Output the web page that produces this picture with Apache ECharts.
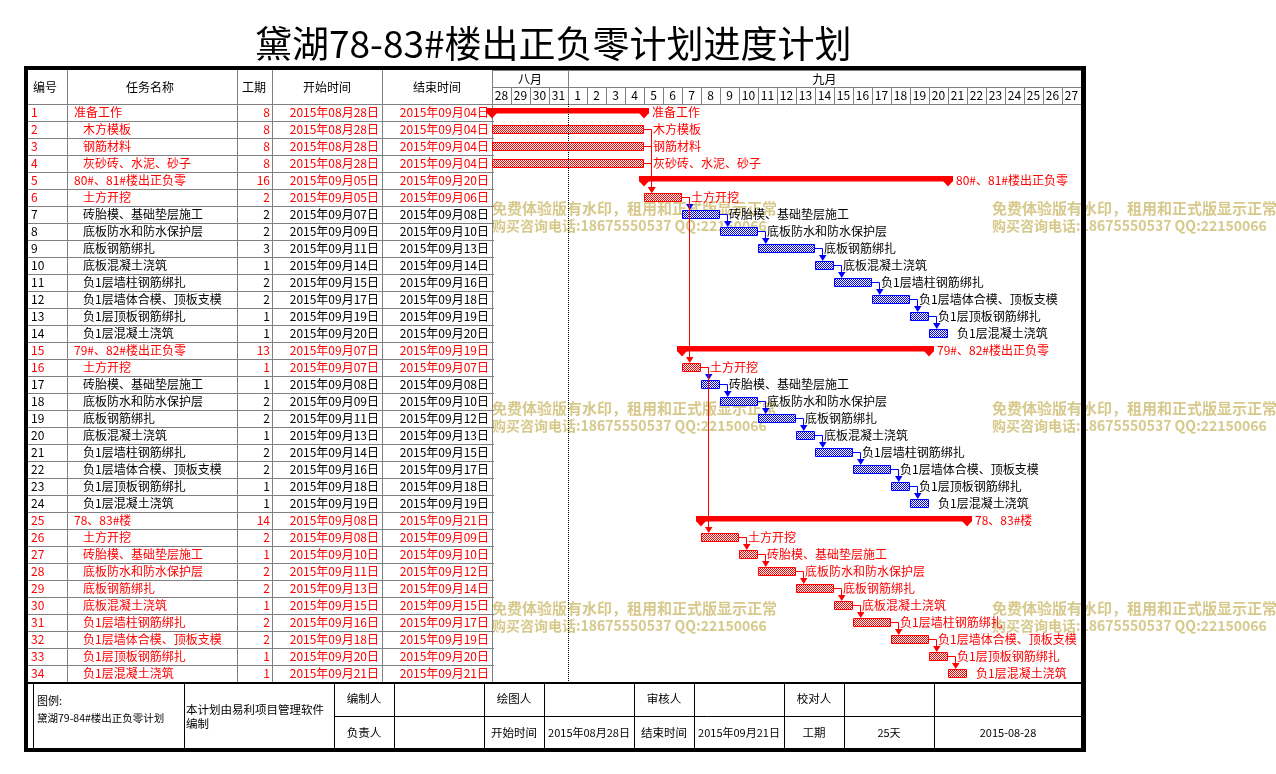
<!DOCTYPE html>
<html><head><meta charset="utf-8">
<script src="https://cdn.jsdelivr.net/npm/echarts/dist/echarts.min.js"></script>
<style>html,body{margin:0;padding:0;background:#fff}#c{width:1276px;height:774px}</style>
</head><body><div id="c"></div>
<script>
// ---------------- DATA ----------------
const chartTitle = '黛湖78-83#楼出正负零计划进度计划';
const columnTitles = ['编号', '任务名称', '工期', '开始时间', '结束时间'];
const taskNames = [
  '准备工作', '木方模板', '钢筋材料', '灰砂砖、水泥、砂子', '80#、81#楼出正负零', '土方开挖',
  '砖胎模、基础垫层施工', '底板防水和防水保护层', '底板钢筋绑扎', '底板混凝土浇筑',
  '负1层墙柱钢筋绑扎', '负1层墙体合模、顶板支模', '负1层顶板钢筋绑扎', '负1层混凝土浇筑',
  '79#、82#楼出正负零', '土方开挖',
  '砖胎模、基础垫层施工', '底板防水和防水保护层', '底板钢筋绑扎', '底板混凝土浇筑',
  '负1层墙柱钢筋绑扎', '负1层墙体合模、顶板支模', '负1层顶板钢筋绑扎', '负1层混凝土浇筑',
  '78、83#楼', '土方开挖',
  '砖胎模、基础垫层施工', '底板防水和防水保护层', '底板钢筋绑扎', '底板混凝土浇筑',
  '负1层墙柱钢筋绑扎', '负1层墙体合模、顶板支模', '负1层顶板钢筋绑扎', '负1层混凝土浇筑'
];
const durations = [8, 8, 8, 8, 16, 2, 2, 2, 3, 1, 2, 2, 1, 1, 13, 1, 1, 2, 2, 1, 2, 2, 1, 1, 14, 2, 1, 2, 2, 1, 2, 2, 1, 1];
const startDates = [
  '2015-08-28', '2015-08-28', '2015-08-28', '2015-08-28', '2015-09-05', '2015-09-05',
  '2015-09-07', '2015-09-09', '2015-09-11', '2015-09-14', '2015-09-15', '2015-09-17', '2015-09-19', '2015-09-20',
  '2015-09-07', '2015-09-07',
  '2015-09-08', '2015-09-09', '2015-09-11', '2015-09-13', '2015-09-14', '2015-09-16', '2015-09-18', '2015-09-19',
  '2015-09-08', '2015-09-08',
  '2015-09-10', '2015-09-11', '2015-09-13', '2015-09-15', '2015-09-16', '2015-09-18', '2015-09-20', '2015-09-21'
];
const endDates = [
  '2015-09-04', '2015-09-04', '2015-09-04', '2015-09-04', '2015-09-20', '2015-09-06',
  '2015-09-08', '2015-09-10', '2015-09-13', '2015-09-14', '2015-09-16', '2015-09-18', '2015-09-19', '2015-09-20',
  '2015-09-19', '2015-09-07',
  '2015-09-08', '2015-09-10', '2015-09-12', '2015-09-13', '2015-09-15', '2015-09-17', '2015-09-18', '2015-09-19',
  '2015-09-21', '2015-09-09',
  '2015-09-10', '2015-09-12', '2015-09-14', '2015-09-15', '2015-09-17', '2015-09-19', '2015-09-20', '2015-09-21'
];
const summaryRows = [1, 5, 15, 25];
const criticalRows = [1, 2, 3, 4, 5, 6, 15, 16, 25, 26, 27, 28, 29, 30, 31, 32, 33, 34];
const links = [
  [2, 6], [3, 6], [4, 6], [6, 7], [6, 16],
  [7, 8], [8, 9], [9, 10], [10, 11], [11, 12], [12, 13], [13, 14],
  [16, 17], [16, 26],
  [17, 18], [18, 19], [19, 20], [20, 21], [21, 22], [22, 23], [23, 24],
  [26, 27], [27, 28], [28, 29], [29, 30], [30, 31], [31, 32], [32, 33], [33, 34]
];
const dayLabels = ['28', '29', '30', '31', '1', '2', '3', '4', '5', '6', '7', '8', '9', '10', '11', '12', '13', '14',
  '15', '16', '17', '18', '19', '20', '21', '22', '23', '24', '25', '26', '27'];
const monthNames = ['八月', '九月'];
const monthStarts = ['2015-08-28', '2015-09-01'];
const monthEnds = ['2015-09-01', '2015-09-28'];
const axisStart = '2015-08-28';
const axisEnd = '2015-09-28';
const watermarkLines = ['免费体验版有水印，租用和正式版显示正常', '购买咨询电话:18675550537 QQ:22150066'];
const legendLabel = '图例:';
const legendName = '黛湖79-84#楼出正负零计划';
const softwareNote = ['本计划由易利项目管理软件', '编制'];
const footerLabels1 = ['编制人', '绘图人', '审核人', '校对人'];
const footerLabels2 = ['负责人', '开始时间', '结束时间', '工期'];
const printDate = '2015-08-28';

// ---------------- HELPERS ----------------
const DAY = 86400000;
const T = s => { const [y, m, d] = s.split('-').map(Number); return new Date(y, m - 1, d).getTime(); };
const fmtDate = s => { const [y, m, d] = s.split('-'); return y + '年' + m + '月' + d + '日'; };
const RED = '#FF0000', BLUE = '#0000FF', GRAY = '#808080', WM = '#D6C98B';
const FONT = '"Noto Sans CJK SC", "Noto Sans", sans-serif';
const f = (s, w) => (w || '') + ' ' + s + 'px ' + FONT;
function makePattern(color) {
  const c = document.createElement('canvas'); c.width = 2; c.height = 2;
  const ctx = c.getContext('2d');
  ctx.fillStyle = '#fff'; ctx.fillRect(0, 0, 2, 2);
  ctx.fillStyle = color; ctx.fillRect(0, 0, 1, 1); ctx.fillRect(1, 1, 1, 1);
  return { image: c, repeat: 'repeat' };
}
const redPat = makePattern(RED), bluePat = makePattern(BLUE);
const isCrit = r => criticalRows.indexOf(r) >= 0;
const isSum = r => summaryRows.indexOf(r) >= 0;

// layout (pixels)
const G = { left: 492, top: 104, width: 589, height: 578 };
const colLines = [67, 237, 272, 382, 492];
const headerCenters = [45, 150, 254, 327, 437];

const projStart = startDates.reduce((a, b) => (T(a) <= T(b) ? a : b));
const projEnd = endDates.reduce((a, b) => (T(a) >= T(b) ? a : b));
const projDays = Math.round((T(projEnd) - T(projStart)) / DAY) + 1;

// ---------------- GRAPHICS (frame, header, footer, watermark) ----------------
const els = [];
const line = (x1, y1, x2, y2, c, z) => els.push({ type: 'line', z: z || 1, shape: { x1, y1, x2, y2 }, style: { stroke: c, lineWidth: 1 } });
const text = (x, y, t, opt) => els.push(Object.assign({ type: 'text', z: 5, x, y, style: Object.assign({ text: t, fill: '#000', font: f(12), align: 'left', verticalAlign: 'middle' }, opt || {}) }));

// watermarks
[[492, 208], [992, 208], [492, 408], [992, 408], [492, 608], [992, 608]].forEach(([x, y]) => {
  els.push({ type: 'text', z: 0, x, y, style: { text: watermarkLines[0], fill: WM, font: f(15, 'bold'), align: 'left', verticalAlign: 'middle' } });
  els.push({ type: 'text', z: 0, x, y: y + 18, style: { text: watermarkLines[1], fill: WM, font: f(14, 'bold'), align: 'left', verticalAlign: 'middle' } });
});

// table column lines & header
colLines.forEach(x => line(x + 0.5, 70, x + 0.5, 682, GRAY));
line(28, 104.5, 494, 104.5, GRAY);
columnTitles.forEach((t, i) => text(headerCenters[i], 87, t, { align: 'center' }));

// footer
els.push({ type: 'rect', z: 10, shape: { x: 28, y: 682, width: 1053, height: 2 }, style: { fill: '#000' } });
[33, 184, 334, 394, 484, 544, 634, 694, 784, 844, 934].forEach(x => line(x + 0.5, 684, x + 0.5, 748, '#000', 10));
line(334, 716.5, 1081, 716.5, '#000', 10);
text(37, 701, legendLabel, { font: f(11) });
text(37, 718, legendName, { font: f(10.5) });
text(186, 710, softwareNote[0], { font: f(11.5) });
text(186, 724, softwareNote[1], { font: f(11.5) });
[364, 514, 664, 814].forEach((x, i) => {
  text(x, 699, footerLabels1[i], { align: 'center', font: f(11.5) });
  text(x, 733, footerLabels2[i], { align: 'center', font: f(11.5) });
});
text(589, 733, fmtDate(projStart), { align: 'center', font: f(11) });
text(739, 733, fmtDate(projEnd), { align: 'center', font: f(11) });
text(889, 733, projDays + '天', { align: 'center', font: f(11) });
text(1008, 733, printDate, { align: 'center', font: f(11) });

// outer frame
[[24, 66, 1062, 4], [24, 66, 4, 686], [1081, 66, 5, 686], [24, 748, 1062, 4]].forEach(([x, y, w, h]) =>
  els.push({ type: 'rect', z: 20, shape: { x, y, width: w, height: h }, style: { fill: '#000' } }));

// ---------------- SERIES ----------------
const rowIdx = taskNames.map((_, i) => i);

const tableSeries = {
  type: 'custom', name: 'table', z: 3, animation: false, silent: true,
  xAxisIndex: 0, yAxisIndex: 0, encode: { x: 0, y: 1 },
  data: rowIdx.map(i => [T(startDates[i]), i]),
  renderItem(params, api) {
    const i = api.value(1);
    const c = api.coord([api.value(0), i])[1];
    const r = i + 1;
    const col = isCrit(r) ? RED : '#000';
    const t = (x, s, align) => ({ type: 'text', style: { text: s, x, y: c, fill: col, font: f(12), align, verticalAlign: 'middle' } });
    return { type: 'group', children: [
      t(31, String(r), 'left'),
      t(isSum(r) ? 74 : 83, taskNames[i], 'left'),
      t(270, String(durations[i]), 'right'),
      t(379, fmtDate(startDates[i]), 'right'),
      t(489, fmtDate(endDates[i]), 'right'),
      { type: 'line', shape: { x1: 28, y1: c + 9, x2: 494, y2: c + 9 }, style: { stroke: GRAY, lineWidth: 1 } }
    ] };
  }
};

const barSeries = {
  type: 'custom', name: 'bars', z: 4, animation: false, silent: true,
  xAxisIndex: 0, yAxisIndex: 0, encode: { x: [0, 1], y: 2 },
  data: rowIdx.map(i => [T(startDates[i]), T(endDates[i]) + DAY, i]),
  renderItem(params, api) {
    const i = api.value(2);
    const p0 = api.coord([api.value(0), i]);
    const p1 = api.coord([api.value(1), i]);
    const x0 = p0[0], x1 = p1[0], c = p0[1];
    const r = i + 1;
    const crit = isCrit(r);
    const color = crit ? RED : BLUE;
    const tcol = crit ? RED : '#000';
    if (isSum(r)) {
      return { type: 'group', children: [
        { type: 'rect', shape: { x: x0 - 5, y: c - 4.5, width: x1 - x0 + 10, height: 5.5 }, style: { fill: color } },
        { type: 'polygon', shape: { points: [[x0 - 5, c + 0.5], [x0 + 5, c + 0.5], [x0, c + 6]] }, style: { fill: color } },
        { type: 'polygon', shape: { points: [[x1 - 5, c + 0.5], [x1 + 5, c + 0.5], [x1, c + 6]] }, style: { fill: color } },
        { type: 'text', style: { text: taskNames[i], x: x1 + 8, y: c, fill: tcol, font: f(12), align: 'left', verticalAlign: 'middle' } }
      ] };
    }
    return { type: 'group', children: [
      { type: 'rect', shape: { x: x0 + 0.5, y: c - 4, width: x1 - x0 - 1, height: 8 }, style: { fill: crit ? redPat : bluePat, stroke: color, lineWidth: 1 } },
      { type: 'text', style: { text: taskNames[i], x: x1 + 9, y: c, fill: tcol, font: f(12), align: 'left', verticalAlign: 'middle' } }
    ] };
  }
};

const linkSeries = {
  type: 'custom', name: 'links', z: 5, animation: false, silent: true,
  xAxisIndex: 0, yAxisIndex: 0, encode: { x: 0, y: [1, 2] },
  data: links.map(([a, b]) => [T(endDates[a - 1]) + DAY, a - 1, b - 1]),
  renderItem(params, api) {
    const pf = api.coord([api.value(0), api.value(1)]);
    const pt = api.coord([api.value(0), api.value(2)]);
    const color = isCrit(api.value(2) + 1) ? RED : BLUE;
    const x = pf[0] + 7.5, tip = pt[1] - 4.5;
    return { type: 'group', children: [
      { type: 'polyline', shape: { points: [[pf[0], pf[1]], [x, pf[1]], [x, tip - 5]] }, style: { stroke: color, lineWidth: 1, fill: 'none' } },
      { type: 'polygon', shape: { points: [[x - 3.5, tip - 6], [x + 4, tip - 6], [x + 0.25, tip]] }, style: { fill: color } }
    ] };
  }
};

const monthSeries = {
  type: 'custom', name: 'months', z: 3, animation: false, silent: true,
  xAxisIndex: 0, yAxisIndex: 0, encode: { x: [0, 1], y: 2 },
  data: monthNames.map((n, i) => [T(monthStarts[i]), T(monthEnds[i]), 0]),
  renderItem(params, api) {
    const p0 = api.coord([api.value(0), 0]);
    const p1 = api.coord([api.value(1), 0]);
    const band = api.size([0, 1])[1];
    const top = p0[1] - band / 2 - 2 * band;
    return { type: 'group', children: [
      { type: 'rect', shape: { x: p0[0] + 0.5, y: top + 0.5, width: p1[0] - p0[0], height: band }, style: { fill: 'none', stroke: GRAY, lineWidth: 1 } },
      { type: 'text', style: { text: monthNames[params.dataIndex], x: (p0[0] + p1[0]) / 2, y: top + band / 2 + 0.5, fill: '#000', font: f(12), align: 'center', verticalAlign: 'middle' } }
    ] };
  }
};

const todaySeries = {
  type: 'line', name: 'boundary', z: 1, animation: false, silent: true,
  xAxisIndex: 0, yAxisIndex: 0, data: [],
  markLine: {
    silent: true, animation: false, symbol: ['none', 'none'], label: { show: false },
    lineStyle: { type: 'dotted', color: '#000', width: 1 },
    data: [{ xAxis: T(monthStarts[1]) }]
  }
};

const option = {
  backgroundColor: '#fff',
  animation: false,
  textStyle: { fontFamily: FONT },
  title: {
    text: chartTitle, left: 255, top: 25, padding: 0,
    textStyle: { fontSize: 37, fontWeight: 'normal', color: '#000', fontFamily: FONT }
  },
  grid: [{ left: G.left, top: G.top, width: G.width, height: G.height, outerBoundsMode: 'none', containLabel: false }],
  xAxis: [
    { type: 'time', gridIndex: 0, min: T(axisStart), max: T(axisEnd), show: false },
    {
      type: 'category', gridIndex: 0, position: 'top', data: dayLabels, boundaryGap: true,
      axisLine: { show: true, onZero: false, lineStyle: { color: GRAY, width: 1 } },
      axisTick: { show: true, interval: 0, length: 17, inside: false, lineStyle: { color: GRAY, width: 1 } },
      axisLabel: { show: true, interval: 0, margin: 3, fontSize: 12, color: '#000', fontFamily: FONT, hideOverlap: false },
      splitLine: { show: false }
    }
  ],
  yAxis: [{ type: 'category', gridIndex: 0, inverse: true, data: rowIdx.map(i => String(i + 1)), show: false }],
  graphic: { elements: els },
  series: [todaySeries, tableSeries, monthSeries, barSeries, linkSeries]
};

const chart = echarts.init(document.getElementById('c'), null, { renderer: 'canvas' });
chart.setOption(option);
</script>
</body></html>
